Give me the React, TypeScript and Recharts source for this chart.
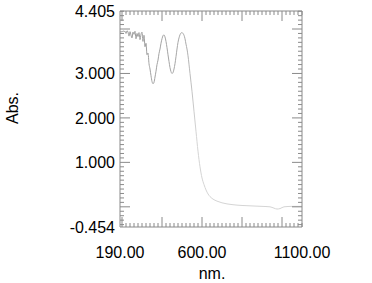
import { LineChart, Line, XAxis, YAxis } from 'recharts';

const wavelength = [
  190, 195, 200, 205, 210, 215, 220, 225, 230, 235, 240, 245, 250, 255, 260, 265, 270, 275, 280, 285,
  290, 295, 300, 305, 310, 315, 320, 325, 330, 335, 340, 345, 350, 355, 360, 365, 370, 375, 380, 385,
  390, 395, 400, 405, 410, 415, 420, 425, 430, 435, 440, 445, 450, 455, 460, 465, 470, 475, 480, 485,
  490, 495, 500, 505, 510, 515, 520, 525, 530, 540, 550, 560, 570, 580, 590, 600, 610, 620, 630, 640,
  660, 680, 700, 750, 800, 850, 900, 940, 960, 975, 990, 1010, 1050, 1100,
];
const absorbance = [
  3.92, 3.95, 3.93, 3.96, 3.94, 3.95, 3.9, 3.96, 3.93, 3.84, 3.94, 3.86, 3.8, 3.93, 3.88, 3.95, 3.78, 3.9, 3.83, 3.92,
  3.76, 3.88, 3.93, 3.72, 3.86, 3.6, 3.68, 3.42, 3.46, 3.22, 3.1, 2.95, 2.82, 2.77, 2.8, 2.92, 3.05, 3.2, 3.3, 3.45,
  3.55, 3.68, 3.78, 3.85, 3.87, 3.82, 3.72, 3.58, 3.42, 3.27, 3.13, 3.04, 3.0, 3.02, 3.1, 3.22, 3.38, 3.55, 3.7, 3.8,
  3.87, 3.91, 3.92, 3.9, 3.86, 3.78, 3.66, 3.55, 3.4, 3.0, 2.6, 2.15, 1.7, 1.25, 0.9, 0.65, 0.5, 0.38, 0.29, 0.23,
  0.16, 0.12, 0.09, 0.05, 0.03, 0.02, 0.01, 0.0, -0.03, -0.05, -0.04, 0.0, 0.01, 0.01,
];

const xLabels = [190, 600, 1100];
const yLabels = [-0.454, 1, 2, 3, 4.405];
const xDomain = [190, 1100];
const yDomain = [-0.454, 4.405];

const data = wavelength.map((nm, i) => ({ nm, abs: absorbance[i] }));

// minor ticks every 20 nm, every 0.1 Abs.
const xTicks = [190, ...Array.from({ length: 46 }, (_, i) => 200 + i * 20)];
const yTicks = [...Array.from({ length: 49 }, (_, i) => Math.round((-0.4 + i * 0.1) * 10) / 10), -0.454, 4.405];

const FONT = '"Liberation Sans", Arial, sans-serif';
const AXIS = '#8a8a8a';

const isMajorX = (v: number) => v % 200 === 0;
const isMajorY = (v: number) => Number.isInteger(v);

function BottomTick({ x, y, payload }: any) {
  const v = payload.value;
  const len = isMajorX(v) ? 10 : 4;
  return (
    <g>
      {v !== 190 && <line x1={x} y1={y} x2={x} y2={y - len} stroke={AXIS} />}
      {xLabels.includes(v) && (
        <text x={x} y={y + 31} textAnchor="middle" fontSize={16} fontFamily={FONT} fill="#000">
          {v.toFixed(2)}
        </text>
      )}
    </g>
  );
}

function TopTick({ x, y, payload }: any) {
  const v = payload.value;
  if (v === 190) return <g />;
  const len = isMajorX(v) ? 10 : 4;
  return <line x1={x} y1={y} x2={x} y2={y + len} stroke={AXIS} />;
}

function LeftTick({ x, y, payload }: any) {
  const v = payload.value;
  const len = isMajorY(v) ? 10 : 4;
  return (
    <g>
      {!yLabels.includes(v) || isMajorY(v) ? <line x1={x} y1={y} x2={x + len} y2={y} stroke={AXIS} /> : null}
      {yLabels.includes(v) && (
        <text x={x - 5} y={y + 6} textAnchor="end" fontSize={16} fontFamily={FONT} fill="#000">
          {v.toFixed(3)}
        </text>
      )}
    </g>
  );
}

function RightTick({ x, y, payload }: any) {
  const v = payload.value;
  if (v === -0.454 || v === 4.405) return <g />;
  const len = isMajorY(v) ? 10 : 4;
  return <line x1={x} y1={y} x2={x - len} y2={y} stroke={AXIS} />;
}

export default function App() {
  return (
    <div style={{ position: 'absolute', left: 0, top: 0, width: 372, height: 283, background: '#fff' }}>
      <LineChart width={372} height={283} data={data} margin={{ top: 10, right: 69, bottom: 55, left: 119 }}>
        <defs>
          <linearGradient id="specStroke" x1="0" y1="0" x2="1" y2="0">
            <stop offset="0" stopColor="#9a9a9a" />
            <stop offset="0.36" stopColor="#a8a8a8" />
            <stop offset="0.42" stopColor="#d4d4d4" />
            <stop offset="1" stopColor="#d4d4d4" />
          </linearGradient>
        </defs>
        <XAxis
          dataKey="nm"
          type="number"
          domain={xDomain}
          ticks={xTicks}
          interval={0}
          height={1}
          tickSize={0}
          tickMargin={0}
          tick={<BottomTick />}
          axisLine={{ stroke: AXIS }}
          allowDataOverflow
        />
        <XAxis
          xAxisId="top"
          orientation="top"
          dataKey="nm"
          type="number"
          domain={xDomain}
          ticks={xTicks}
          interval={0}
          height={1}
          tickSize={0}
          tickMargin={0}
          tick={<TopTick />}
          axisLine={{ stroke: AXIS }}
          allowDataOverflow
        />
        <YAxis
          type="number"
          domain={yDomain}
          ticks={yTicks}
          interval={0}
          width={1}
          tickSize={0}
          tickMargin={0}
          tick={<LeftTick />}
          axisLine={{ stroke: AXIS }}
          allowDataOverflow
        />
        <YAxis
          yAxisId="right"
          orientation="right"
          type="number"
          domain={yDomain}
          ticks={yTicks}
          interval={0}
          width={1}
          tickSize={0}
          tickMargin={0}
          tick={<RightTick />}
          axisLine={{ stroke: AXIS }}
          allowDataOverflow
        />
        <Line
          dataKey="abs"
          type="monotone"
          stroke="url(#specStroke)"
          strokeWidth={1}
          dot={false}
          isAnimationActive={false}
        />
        <text x={212} y={279} textAnchor="middle" fontSize={16} fontFamily={FONT} fill="#000">
          nm.
        </text>
        <text
          x={12}
          y={108}
          textAnchor="middle"
          dominantBaseline="central"
          transform="rotate(-90 12 108)"
          fontSize={16}
          fontFamily={FONT}
          fill="#000"
        >
          Abs.
        </text>
      </LineChart>
    </div>
  );
}
